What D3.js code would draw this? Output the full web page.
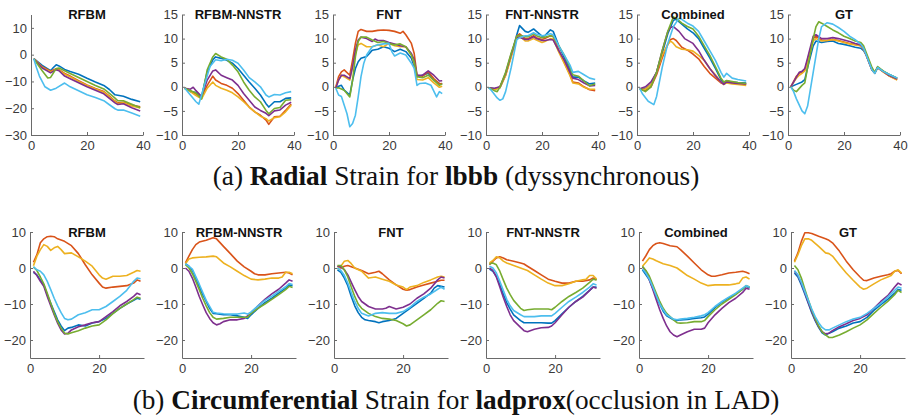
<!DOCTYPE html>
<html>
<head>
<meta charset="utf-8">
<script src="https://cdn.jsdelivr.net/npm/d3@7"></script>
<style>
  body { margin: 0; background: #fff; }
  .tick text { font-family: "Liberation Sans", Arial, sans-serif; font-size: 13px; fill: #3a3a3a; }
  .title { font-family: "Liberation Sans", Arial, sans-serif; font-size: 13px; font-weight: bold; fill: #111; }
  .caption { font-family: "Liberation Serif", "DejaVu Serif", serif; fill: #111; }
</style>
</head>
<body>
<div id="chart"></div>
<script>
// series order in every panel: blue, orange, yellow, purple, green, light blue
const lineColors = ["#0072BD", "#D95319", "#EDB120", "#7E2F8E", "#77AC30", "#4DBEEE"];
const panelTitles = ["RFBM", "RFBM-NNSTR", "FNT", "FNT-NNSTR", "Combined", "GT"];

const radialXTicks = [0, 20, 40];
const radialYTicksFirst = [-30, -20, -10, 0, 10];
const radialYTicks = [-10, -5, 0, 5, 10, 15];
const circXTicks = [0, 20];
const circYTicks = [-20, -10, 0, 10];

// (a) radial strain, lbbb
const radialRFBM = [
  [[1,-1.5],[4,-4],[7,-6],[8,-4.8],[9,-3.8],[10,-4.2],[12,-5.5],[14,-6.3],[17,-7.3],[20,-8.8],[23,-10.2],[26,-11.5],[28,-13],[30,-15],[33,-15.5],[36,-16.7],[39,-17.6]],
  [[1,-1.5],[4,-4.5],[7,-6.2],[9,-5.3],[10,-5.6],[12,-7],[14,-8],[17,-9.7],[20,-11.3],[23,-12.6],[26,-13.8],[28,-15.5],[30,-17.3],[31,-18],[33,-17.8],[36,-18.8],[39,-19.5]],
  [[1,-1.5],[4,-4.8],[7,-6.5],[9,-5.5],[10,-5.8],[12,-7.3],[14,-8.3],[17,-10],[20,-11.5],[23,-12.8],[26,-14],[28,-15.8],[30,-17.5],[31,-18.3],[33,-18],[36,-19.2],[39,-19.9]],
  [[1,-1.5],[4,-5],[7,-6.8],[9,-5.6],[10,-6],[12,-8],[14,-9],[17,-10.5],[20,-12],[23,-13.3],[26,-14.6],[28,-16.3],[30,-18],[31,-18.6],[33,-18.3],[36,-19.8],[39,-21]],
  [[1,-1.5],[4,-6],[6,-8.7],[7,-8.5],[9,-5.2],[10,-5],[12,-6],[14,-7],[17,-8.5],[20,-10],[23,-11.5],[26,-12.8],[28,-14.5],[30,-16.2],[31,-17.2],[33,-17.2],[36,-18.5],[39,-19.8]],
  [[1,-1.5],[2,-5],[3,-8],[5,-12],[7,-13.3],[9,-12.5],[12,-10.6],[14,-12],[17,-13.5],[20,-15],[23,-16],[26,-17.2],[28,-18.7],[30,-20.2],[31,-20.7],[33,-20.7],[36,-21.8],[39,-23]]
];
const radialRFBMNNSTR = [
  [[1,-0.3],[3,-1],[5,-1.2],[7,-2],[9,3.1],[11,5.6],[12,6.2],[14,5.9],[16,5.5],[18,4.9],[20,3.8],[22,2.4],[24,1],[26,-0.3],[28,-1.7],[30,-3.5],[31,-4.2],[33,-3.1],[35,-3.1],[37,-2.4],[39,-2.3]],
  [[1,-0.3],[3,-0.8],[5,-1.5],[7,-2.2],[9,0.3],[11,2.2],[12,1.4],[14,0.7],[16,0.3],[18,-0.3],[20,-1.4],[22,-2.8],[24,-4.2],[26,-5.2],[28,-5.9],[30,-6.9],[31,-7.8],[33,-6.2],[35,-6.1],[37,-4.9],[39,-3.6]],
  [[1,-0.3],[3,-1],[5,-1.8],[7,-2.5],[9,-0.3],[11,1],[12,0.3],[14,-0.3],[16,-0.7],[18,-1.25],[20,-2.1],[22,-3.1],[24,-4.2],[26,-5.2],[28,-6.1],[30,-6.6],[31,-7.1],[33,-6.4],[35,-6.2],[37,-5.2],[39,-3.8]],
  [[1,-0.3],[3,-0.5],[4,-0.1],[5,-0.8],[7,-2],[9,1.4],[11,3.3],[12,3.5],[14,2.4],[16,1.9],[18,1.4],[20,0.3],[22,-1.4],[24,-2.8],[26,-4.2],[28,-4.9],[30,-5.5],[31,-6],[33,-5],[35,-4.8],[37,-3.8],[39,-3.2]],
  [[1,-0.3],[3,-0.8],[5,-1.3],[7,-2.5],[9,3.5],[11,6.2],[12,6.9],[14,6.2],[16,5.7],[18,4.5],[20,3.1],[22,1],[24,-0.7],[26,-2.1],[28,-3.1],[30,-4.9],[31,-5.6],[33,-4.5],[35,-4.3],[37,-2.8],[39,-2.7]],
  [[1,-0.3],[3,-1.7],[5,-3.1],[6,-3.6],[8,0.3],[10,4.2],[12,5.6],[14,5.4],[16,5.7],[18,5.5],[20,4.9],[22,3.5],[24,1.9],[26,1],[28,0],[30,-1.7],[31,-2.1],[33,-1.6],[35,-1.7],[37,-1.25],[39,-1]]
];
const radialFNT = [
  [[1,-0.3],[2,0.1],[3,0.3],[4,-0.7],[6,-1.7],[7,1.4],[8,3.8],[9,5.2],[10,5.9],[12,6.3],[13,6.9],[14,7.6],[16,7.8],[18,8.3],[20,8],[22,7.3],[24,7.8],[26,7.3],[28,5.9],[29,4.2],[30,2.1],[32,2.4],[34,2.8],[36,1.4],[38,0.7],[39,0.6]],
  [[1,-0.1],[2,2.1],[3,3.1],[4,3.5],[6,2.4],[7,5.6],[8,9],[9,11.5],[10,11.9],[12,11.5],[14,11.5],[16,11.7],[18,11.8],[20,11.7],[22,11.5],[24,11.1],[25,11.5],[26,10.8],[28,9],[29,6.9],[30,2.4],[32,2.2],[34,3.1],[36,1.7],[38,0.6],[39,0.7]],
  [[1,-0.1],[2,1.4],[3,2.4],[4,2.1],[6,1.4],[7,4.2],[8,6.9],[9,8.7],[10,9],[12,8.3],[14,8.3],[16,8.7],[18,8.3],[20,9],[22,8.5],[24,8.3],[26,8.3],[28,6.6],[29,4.9],[30,1.5],[32,1.4],[34,1.9],[36,0.8],[38,-0.1],[39,0.1]],
  [[1,-0.3],[2,1.4],[3,2.4],[4,2.4],[6,1.7],[7,4.2],[8,7.6],[9,9.7],[10,10.3],[12,10],[14,9.4],[15,9.9],[16,9.6],[18,9.6],[20,9.2],[22,8.9],[24,8.5],[26,8.3],[28,6.9],[29,5.6],[30,2.4],[32,2.4],[34,3.3],[36,2.4],[38,1.2],[39,1.25]],
  [[1,-0.3],[2,-0.2],[4,-0.7],[6,-2.1],[7,1.4],[8,6.2],[9,9.4],[10,10.3],[12,10.3],[14,9.7],[16,9.2],[18,9.4],[20,9],[22,8.7],[24,8.9],[26,8.3],[28,6.6],[29,5.2],[30,2.1],[32,1.9],[34,2.4],[36,1.4],[38,0.3],[39,0.6]],
  [[1,-0.3],[2,-1.7],[3,-2],[5,-5.6],[6,-8.3],[7,-7.6],[8,-5.9],[9,-2.1],[10,2.1],[11,4.9],[12,6.6],[14,8.3],[16,8.7],[18,8.9],[20,9],[21,7.3],[22,6.4],[24,7],[26,6.6],[28,4.9],[29,3.8],[30,0.3],[31,0.7],[33,0.8],[35,0.3],[37,-2.1],[38,-1],[39,-1.4]]
];
const radialFNTNNSTR = [
  [[1,-0.2],[3,-0.4],[5,-0.2],[7,2.5],[9,6.5],[11,10.8],[12,12.7],[14,11.5],[15,11.3],[17,12],[18,11.5],[20,10.5],[21,10.6],[23,11.8],[24,11.5],[26,8.5],[28,6],[30,3.5],[31,2],[33,2],[35,1.2],[37,0.6],[39,0.8]],
  [[1,-0.2],[3,-0.5],[5,0],[7,2.5],[9,6.5],[11,10.5],[12,11],[14,10],[15,10],[17,10.6],[18,10.2],[20,9.8],[21,10],[23,10.6],[24,10.5],[26,7.5],[28,5],[30,2.5],[31,1],[33,0.8],[35,0],[37,-0.6],[39,-0.8]],
  [[1,-0.2],[3,-0.6],[5,-0.2],[7,2.3],[9,6.2],[11,10],[12,10.5],[14,9.5],[15,9.5],[17,10],[18,9.7],[20,9.2],[21,9.4],[23,10],[24,9.9],[26,7.2],[28,4.8],[30,2.3],[31,0.8],[33,0.6],[35,-0.1],[37,-0.5],[39,-0.5]],
  [[1,-0.2],[3,-0.3],[5,0],[7,2.8],[9,6.8],[11,10.2],[12,10.3],[14,9.8],[15,9.8],[17,10.4],[18,10],[20,9.6],[21,9.6],[23,9.8],[24,9.7],[26,7.5],[28,5.5],[30,3],[31,1.8],[33,1.5],[35,0.8],[37,0.2],[39,0.3]],
  [[1,-0.2],[3,-0.8],[4,-1],[5,0],[7,3],[9,7],[11,10.5],[12,10.7],[14,10.4],[15,10.4],[17,11],[18,10.6],[20,10.2],[21,10.3],[23,10.6],[24,10.4],[26,8.5],[28,6.5],[30,4],[31,2.5],[33,2.2],[35,1.2],[37,0.2],[39,0.6]],
  [[1,-0.2],[2,-0.8],[4,-2.3],[5,-2.8],[6,-2.5],[7,-1],[9,4],[11,9.8],[12,10.2],[14,10.6],[15,10.6],[17,11.2],[18,10.9],[20,10.6],[21,10.7],[23,11],[24,10.8],[26,8.5],[28,6.5],[30,4.5],[31,3],[33,3.2],[35,2.5],[37,1.8],[39,1.5]]
];
const radialCombined = [
  [[1,-0.4],[3,-0.4],[5,0.5],[7,3],[9,7],[11,11],[13,13.8],[14,14],[16,13],[18,12],[20,11.2],[22,10],[24,8],[26,6],[28,3.8],[30,1.5],[31,0.8],[32,1.2],[34,1],[36,0.9],[39,0.8]],
  [[1,-0.4],[3,-0.8],[5,0],[7,2.5],[9,6],[11,8.8],[12,9.8],[13,10],[14,9.6],[16,8.2],[18,7.6],[20,6.8],[22,5.8],[24,4.2],[26,2.8],[28,1.8],[30,0.8],[31,0.6],[32,1.2],[34,0.9],[36,0.7],[39,0.5]],
  [[1,-0.4],[3,-0.5],[5,0.5],[7,3],[9,6.5],[11,8.8],[12,9.5],[13,9],[14,8.3],[16,7.8],[18,7.7],[20,7.4],[22,6.5],[24,5.5],[26,3.8],[28,2.5],[30,1],[31,0.5],[32,0.8],[34,0.6],[36,0.5],[39,0.3]],
  [[1,-0.4],[3,0],[5,1],[7,3],[9,7.5],[11,11.5],[12,12.3],[13,12.5],[15,11.5],[17,10],[20,9],[22,7.5],[24,5.5],[26,3.8],[28,2.3],[30,1],[31,0.5],[32,1],[34,0.8],[36,0.7],[39,0.6]],
  [[1,-0.4],[3,-1],[5,0],[7,3],[9,7.5],[11,11.5],[13,14.5],[14,14.2],[16,13.2],[18,12.5],[20,12],[22,10.5],[24,8.5],[26,6.5],[28,4.2],[30,1.8],[31,1],[32,1.3],[34,1.1],[36,0.9],[39,0.7]],
  [[1,-0.4],[2,-1.5],[4,-3],[6,-3.7],[7,-2],[9,4],[11,9],[13,12.5],[15,14.2],[16,14],[18,13.2],[20,12.6],[22,11.5],[24,9.5],[26,7.5],[28,5.5],[30,3],[31,2],[32,2.8],[34,1.8],[36,1.5],[39,1.2]]
];
const radialGT = [
  [[1,0],[3,0.5],[5,1],[6,1.5],[7,4],[9,8.5],[10,9.5],[12,9.2],[14,9.4],[16,9.5],[18,9],[20,8.8],[22,8.5],[24,8.2],[26,8],[27,7.5],[28,6.5],[29,5],[30,3.5],[31,2.8],[32,4],[34,3.2],[36,2.6],[39,1.8]],
  [[1,0],[3,2.2],[4,2.8],[5,3],[6,3.5],[7,5.5],[9,10],[10,10.5],[12,9.7],[14,9.6],[16,9.8],[18,9.6],[20,9.3],[22,9],[24,8.8],[26,8.5],[27,7.8],[28,6.5],[29,5],[30,3.5],[31,2.9],[32,4],[34,3.1],[36,2.3],[39,1.5]],
  [[1,0],[3,1.8],[4,2.4],[5,2.8],[6,3.3],[7,5],[9,9.5],[10,10],[12,9.5],[14,9.6],[16,9.8],[18,9.5],[20,9.2],[22,8.9],[24,8.7],[26,8.5],[27,7.8],[28,6.5],[29,5],[30,3.5],[31,2.9],[32,4],[34,3.1],[36,2.3],[39,1.4]],
  [[1,0],[3,2],[4,3],[5,3.2],[6,3.8],[7,6],[9,10.5],[10,10.8],[12,10],[14,10],[16,10.2],[18,10],[20,9.7],[22,9.4],[24,9],[26,8.7],[27,8],[28,6.5],[29,5],[30,3.5],[31,3],[32,4],[34,3.2],[36,2.4],[39,1.6]],
  [[1,0],[2,-0.7],[3,-1],[5,0.3],[6,0.8],[7,4],[9,10],[10,12.5],[11,13.5],[12,13.2],[14,12.5],[16,11.8],[18,11.2],[20,10.5],[22,10],[24,9.5],[26,9.2],[27,8.5],[28,7],[29,5.5],[30,4],[31,3],[32,4.2],[34,3.3],[36,2.6],[39,1.8]],
  [[1,0],[2,-1],[3,-2.5],[5,-5],[6,-5.6],[7,-4],[9,3],[11,10],[12,12.5],[14,13.3],[16,13],[18,12.3],[20,11.5],[22,10.5],[24,9.8],[26,8.8],[27,8],[28,6.5],[29,5],[30,3.5],[31,2.8],[32,4],[34,3.2],[36,2.6],[39,1.8]]
];

// (b) circumferential strain, ladprox
const circRFBM = [
  [[1,-1.2],[2,-1.9],[3,-3.3],[4,-4.7],[5,-7.4],[6,-9.8],[7,-12.1],[8,-14.4],[9,-16.1],[10,-17.4],[11,-16.7],[12,-16.5],[14,-15.8],[16,-16.1],[18,-15.3],[20,-14.9],[22,-14],[24,-12.6],[26,-11.2],[28,-10],[30,-9],[31,-8.4],[32,-8.7]],
  [[1,1.6],[2,3.7],[3,7],[4,8.1],[5,8.7],[6,8.8],[7,8.7],[8,8.1],[10,7.4],[12,6.2],[14,4],[16,0.9],[18,-1.9],[20,-4.2],[21,-5.3],[22,-5.6],[24,-5.3],[26,-5.1],[28,-4.9],[30,-4.2],[31,-3.3],[32,-3.7]],
  [[1,0.6],[2,3.3],[3,5.1],[4,6.5],[5,6],[6,4.9],[7,5.6],[8,6],[9,5.1],[10,4],[12,4.2],[14,3.1],[16,1.9],[18,0.5],[20,-1.9],[21,-2.8],[22,-3.1],[24,-2.3],[26,-2.3],[28,-2.1],[30,-1.2],[31,-0.7],[32,-0.9]],
  [[1,-0.9],[2,-2.1],[3,-3.7],[4,-5.1],[5,-7.9],[6,-10.5],[7,-13],[8,-15.3],[9,-17.2],[10,-18.3],[11,-18.1],[12,-17.2],[14,-16.3],[16,-15.8],[18,-15.2],[20,-14.9],[22,-13.5],[24,-12.1],[26,-10.5],[28,-9.3],[30,-7.9],[31,-7],[32,-7.4]],
  [[1,0.3],[2,-0.7],[3,-2.5],[4,-4.4],[5,-7],[6,-9.8],[7,-12.6],[8,-14.9],[9,-16.7],[10,-18.1],[11,-18.3],[12,-18],[14,-17.4],[16,-16.7],[18,-16.1],[20,-15.8],[22,-14.4],[24,-12.7],[26,-11.2],[28,-10],[30,-8.8],[31,-8.1],[32,-8.4]],
  [[1,0.3],[2,-0.5],[3,-0.9],[4,-1.9],[5,-3.7],[6,-6],[7,-8.4],[8,-10.5],[9,-12.4],[10,-14],[11,-14.4],[12,-14.2],[14,-13],[16,-12.4],[18,-11.6],[20,-11.6],[22,-10.7],[24,-9.3],[26,-7.9],[28,-6.2],[30,-3.7],[31,-2.8],[32,-3]]
];
const circRFBMNNSTR = [
  [[1,1.2],[2,0.5],[3,-0.7],[4,-2.8],[5,-5.1],[6,-7.4],[7,-9.3],[8,-11.2],[9,-12.6],[10,-12.7],[12,-13],[14,-13],[16,-13.3],[18,-13.7],[19,-14],[20,-13],[22,-11.2],[24,-9.6],[26,-8.4],[28,-7],[30,-5.6],[31,-4.7],[32,-4.9]],
  [[1,1.4],[2,3.3],[3,5.1],[4,6.5],[5,7.2],[7,7.7],[9,8.4],[10,8.1],[12,6],[14,4],[16,1.9],[18,0.3],[20,-0.9],[21,-1.6],[22,-1.9],[24,-1.9],[26,-1.6],[28,-1.4],[30,-1.2],[31,-1.4],[32,-1.9]],
  [[1,1.2],[2,2.5],[3,2.8],[5,3],[7,3.1],[9,3.3],[10,3.1],[12,1.4],[14,0.3],[16,-0.9],[18,-2.1],[20,-3.1],[22,-3.3],[24,-3.1],[26,-2.8],[28,-2.8],[29,-2.5],[30,-1.2],[31,-1.2],[32,-1.6]],
  [[1,0],[2,-0.9],[3,-2.8],[4,-5.3],[5,-7.9],[6,-10.2],[7,-12.4],[8,-14],[9,-15.2],[10,-15.8],[11,-15.5],[12,-14.9],[14,-14.4],[16,-14.4],[18,-14],[20,-12.6],[22,-10.5],[24,-8.7],[26,-7.2],[28,-5.9],[30,-4.2],[31,-3.3],[32,-3.7]],
  [[1,0.9],[2,0],[3,-1.6],[4,-3.7],[5,-6],[6,-8.4],[7,-10.5],[8,-12.4],[9,-13.7],[10,-14.2],[12,-14],[14,-13.7],[16,-13.7],[18,-13.7],[19,-13.7],[20,-12.6],[22,-11.2],[24,-10],[26,-8.7],[28,-7.4],[30,-6],[31,-5.1],[32,-5.4]],
  [[1,1.2],[3,-0.3],[5,-4.5],[7,-9],[9,-12.3],[10,-12.5],[12,-12.7],[14,-12.8],[16,-12.8],[18,-12.5],[19,-12.8],[20,-12.2],[22,-10.5],[24,-9],[26,-7.8],[28,-6.5],[30,-5.2],[31,-4.3],[32,-4.6]]
];
const circFNT = [
  [[1,-0.5],[2,-1.2],[3,-2.8],[4,-4.9],[5,-7.9],[6,-10.5],[7,-12.4],[8,-13.7],[9,-14.4],[10,-14.6],[12,-14.9],[13,-15.2],[14,-14.9],[16,-14.6],[18,-14],[20,-12.6],[22,-11.2],[24,-9.8],[26,-8.4],[28,-7],[29,-5.6],[30,-4.9],[31,-5.1],[32,-5.3]],
  [[1,0.5],[2,0],[3,0.5],[4,0.7],[6,0],[8,-0.7],[10,-1.6],[12,-1.2],[13,-0.9],[14,-1.6],[16,-3.3],[18,-4.7],[20,-5.9],[21,-6.2],[22,-6],[24,-5.3],[26,-4.7],[28,-4.2],[30,-3.7],[31,-3.4],[32,-3.4]],
  [[1,-0.3],[2,0.5],[3,1.9],[4,2.1],[5,1.2],[6,0],[8,-0.9],[10,-2.8],[12,-2.5],[14,-3.1],[16,-3.7],[18,-4.7],[20,-5.3],[21,-6],[22,-5.3],[24,-4.9],[26,-4],[28,-3.3],[30,-2.5],[31,-2.3],[32,-2.5]],
  [[1,0.5],[2,0.3],[3,-0.5],[4,-1.9],[5,-4],[6,-6],[7,-7.9],[8,-9.3],[10,-10.7],[12,-11.4],[14,-11.4],[15,-11.2],[16,-10.7],[18,-11.4],[20,-10.9],[22,-10],[24,-8.4],[26,-7.2],[28,-5.6],[30,-3.3],[31,-2.5],[32,-2.8]],
  [[1,0.7],[2,0.7],[3,-0.5],[4,-2.5],[5,-5.3],[6,-7.9],[7,-10],[8,-11.2],[10,-12.6],[12,-13.5],[14,-14],[16,-14.2],[18,-14.6],[20,-15.5],[21,-16.1],[22,-15.8],[24,-14.4],[26,-13],[28,-11.6],[30,-9.8],[31,-9.1],[32,-9.3]],
  [[1,0],[2,-0.7],[3,-2.1],[4,-4.2],[5,-6.8],[6,-9.3],[7,-11.2],[8,-12.6],[10,-13.3],[11,-13],[12,-12.6],[14,-12.4],[16,-12.6],[18,-12.6],[20,-12.1],[22,-10.9],[24,-9.3],[26,-8.1],[28,-7.2],[30,-5.9],[31,-5.3],[32,-5.9]]
];
const circFNTNNSTR = [
  [[1,-0.3],[2,-0.9],[3,-2.3],[4,-4.7],[5,-7.2],[6,-9.6],[7,-11.4],[8,-13],[10,-14.6],[11,-15.2],[12,-15.2],[14,-15.2],[16,-15.2],[18,-15.3],[19,-15.3],[20,-14.6],[22,-12.7],[24,-10.9],[26,-9.3],[28,-7.9],[30,-6.2],[31,-5.3],[32,-5.3]],
  [[1,0.9],[2,1.9],[3,2.8],[4,3.1],[5,2.8],[6,2.3],[8,1.9],[10,1.4],[11,1.1],[12,0.5],[14,-0.7],[16,-1.9],[18,-3.1],[20,-3.7],[22,-4.2],[24,-4.2],[26,-3.7],[28,-3.7],[30,-3.3],[31,-2.8],[32,-3.3]],
  [[1,1.4],[2,2.1],[3,3.1],[4,2.8],[5,1.9],[6,1.4],[8,0.7],[10,0],[12,-0.7],[14,-1.9],[16,-3.1],[18,-4.2],[20,-4.9],[22,-4.9],[24,-4.4],[26,-3.7],[28,-3.3],[29,-3.1],[30,-2.1],[31,-2.1],[32,-3.1]],
  [[1,0],[2,-0.7],[3,-2.5],[4,-5.3],[5,-8.1],[6,-10.7],[7,-13],[8,-14.6],[10,-16.5],[11,-17.4],[12,-17.7],[14,-17],[16,-16.6],[18,-16.5],[19,-16.1],[20,-15.2],[22,-13],[24,-10.9],[26,-9.3],[28,-8.1],[30,-6.2],[31,-5.3],[32,-5.6]],
  [[1,1.2],[2,1.4],[3,0.9],[4,-0.9],[5,-3.3],[6,-5.6],[7,-7.4],[8,-9],[10,-11.2],[11,-11.8],[12,-11.6],[14,-11.4],[16,-11.4],[18,-11.4],[19,-11.6],[20,-10.9],[22,-9.3],[24,-7.9],[26,-6.8],[28,-5.6],[30,-4],[31,-3.1],[32,-3.3]],
  [[1,0.5],[2,0],[3,-1.4],[4,-3.7],[5,-6.2],[6,-8.7],[7,-10.5],[8,-11.8],[10,-13],[11,-13.5],[12,-13.5],[14,-13.5],[16,-13.3],[18,-13.3],[19,-13.3],[20,-12.6],[22,-10.9],[24,-9.3],[26,-8.1],[28,-6.8],[30,-5.3],[31,-4.4],[32,-4.7]]
];
const circCombined = [
  [[1,-0.5],[3,-3.3],[5,-8],[7,-12],[8,-13.3],[10,-14.4],[11,-14.6],[12,-14.4],[14,-14.3],[16,-14],[18,-13.8],[19,-13.6],[20,-12.8],[22,-11],[24,-9.5],[26,-8.3],[28,-7.2],[30,-5.9],[31,-5.1],[32,-5.5]],
  [[1,1.9],[2,3.4],[3,5.1],[4,6.2],[5,6.8],[6,7],[7,6.8],[9,6.2],[11,5.9],[12,5.1],[14,3.3],[16,1.4],[18,-0.5],[20,-1.9],[21,-2.3],[22,-2.3],[24,-1.9],[26,-1.4],[28,-1.2],[30,-0.9],[31,-1.2],[32,-1.6]],
  [[1,0.5],[2,1.6],[3,2.8],[4,2.5],[5,2],[7,1.2],[9,0.7],[11,0],[12,-0.7],[14,-2.1],[16,-3.1],[18,-4.2],[20,-4.9],[22,-4.7],[24,-4.7],[26,-4.7],[28,-4.4],[29,-4.2],[30,-2.8],[31,-2.5],[32,-3.1]],
  [[1,0.3],[2,-0.9],[3,-3.3],[4,-6],[5,-8.8],[6,-11.6],[7,-14],[8,-16.1],[9,-17.7],[10,-18.6],[11,-19.1],[12,-18.6],[14,-17.7],[16,-17],[18,-17],[19,-16.7],[20,-15.2],[22,-13],[24,-11.2],[26,-9.6],[28,-8.4],[30,-6.8],[31,-5.6],[32,-5.9]],
  [[1,0.5],[2,-0.7],[3,-2.3],[4,-4.7],[5,-7],[6,-9.3],[7,-11.2],[8,-12.6],[10,-14.4],[11,-15.2],[12,-15.3],[14,-15.2],[16,-14.9],[18,-14.9],[19,-14.6],[20,-13.5],[22,-11.6],[24,-10],[26,-8.7],[28,-7.4],[30,-5.9],[31,-4.9],[32,-5.3]],
  [[1,-0.3],[2,-1.4],[3,-3.1],[4,-5.3],[5,-7.7],[6,-10],[7,-11.6],[8,-13],[10,-14.2],[11,-14.4],[12,-14.2],[14,-14],[16,-13.7],[18,-13.3],[19,-13],[20,-12.4],[22,-10.7],[24,-9.3],[26,-8.1],[28,-7],[30,-5.6],[31,-4.9],[32,-5.3]]
];
const circGT = [
  [[1,-1.4],[2,-2.5],[3,-4.7],[4,-7.2],[5,-9.8],[6,-12.4],[7,-14.6],[8,-16.5],[9,-18],[10,-18.6],[11,-18.1],[12,-17.7],[14,-16.7],[16,-16.1],[18,-15.3],[20,-14.9],[22,-13.7],[24,-11.8],[26,-10.2],[28,-8.7],[30,-7],[31,-6],[32,-6.2]],
  [[1,1.9],[2,4.2],[3,7.4],[4,9.8],[5,9.8],[6,9.6],[8,8.8],[10,8.1],[11,7.7],[12,7],[14,4.7],[16,1.9],[18,-0.5],[20,-2.5],[21,-3.4],[22,-3.5],[24,-2.8],[26,-2.3],[28,-1.9],[29,-1.6],[30,-0.9],[31,-0.7],[32,-1.6]],
  [[1,1.6],[2,3.7],[3,6.2],[4,8.1],[5,8.1],[6,7.7],[8,6],[10,4.2],[11,4],[12,3.3],[14,0.9],[16,-1.4],[18,-3.4],[20,-5.3],[21,-5.9],[22,-5.6],[24,-4.4],[26,-3.3],[28,-2.5],[29,-2.1],[30,-0.9],[31,-0.5],[32,-1.4]],
  [[1,-0.9],[2,-2.1],[3,-4.2],[4,-6.8],[5,-9.6],[6,-12.1],[7,-14.4],[8,-16.3],[9,-17.7],[10,-18.3],[11,-18.1],[12,-17.4],[14,-16.3],[16,-15.5],[18,-14.6],[20,-14],[22,-13],[24,-11.2],[26,-9.3],[28,-7.7],[30,-5.3],[31,-4.2],[32,-4.7]],
  [[1,0.7],[2,-0.5],[3,-2.8],[4,-5.9],[5,-8.8],[6,-11.6],[7,-14],[8,-16.1],[9,-17.7],[10,-18.6],[11,-19.3],[12,-19.3],[14,-18.6],[16,-17.7],[18,-16.7],[20,-15.8],[22,-14.4],[24,-12.6],[26,-10.9],[28,-9.3],[30,-7.4],[31,-6.2],[32,-6.8]],
  [[1,-0.7],[2,-1.9],[3,-4],[4,-6.5],[5,-9],[6,-11.4],[7,-13.5],[8,-15.2],[9,-16.5],[10,-17.2],[11,-17.2],[12,-16.7],[14,-15.8],[16,-14.9],[18,-14.2],[20,-13.7],[22,-12.6],[24,-11.2],[26,-9.8],[28,-8.1],[30,-6.2],[31,-5.3],[32,-5.6]]
];

const radialPanels = [radialRFBM, radialRFBMNNSTR, radialFNT, radialFNTNNSTR, radialCombined, radialGT];
const circPanels = [circRFBM, circRFBMNNSTR, circFNT, circFNTNNSTR, circCombined, circGT];

// Layout
const W = 912, H = 417;
const svg = d3.select("#chart").append("svg")
    .attr("width", W)
    .attr("height", H);

const topLefts = [31, 182, 333, 486, 637, 788];
const botLefts = [30, 182, 334, 486, 639, 791];

function drawPanel(opt) {
    let g = svg.append("g").attr("transform", `translate(${opt.left}, ${opt.top})`);

    let x = d3.scaleLinear().domain(opt.xDomain).range([0, opt.width]);
    let y = d3.scaleLinear().domain(opt.yDomain).range([opt.height, 0]);

    // x axis
    let xa = g.append("g")
        .attr("transform", `translate(0, ${opt.height})`)
        .call(d3.axisBottom(x).tickValues(opt.xTicks).tickSizeInner(-3).tickSizeOuter(0).tickPadding(6));
    // y axis
    let ya = g.append("g")
        .call(d3.axisLeft(y).tickValues(opt.yTicks).tickSizeInner(-3).tickSizeOuter(0).tickPadding(4));

    [xa, ya].forEach(a => {
        a.select(".domain").attr("stroke", "#6a6a6a");
        a.selectAll(".tick line").attr("stroke", "#6a6a6a");
        a.attr("font-family", null).attr("font-size", null);
    });

    let line = d3.line()
        .x(d => x(d[0]))
        .y(d => y(d[1]));

    opt.series.forEach((s, i) => {
        g.append("path")
            .datum(s)
            .attr("d", line)
            .attr("fill", "none")
            .attr("stroke", lineColors[i])
            .attr("stroke-width", 1.6)
            .attr("stroke-linejoin", "round");
    });

    g.append("text")
        .attr("class", "title")
        .attr("x", opt.width / 2)
        .attr("y", opt.titleY)
        .attr("text-anchor", "middle")
        .text(opt.title);
}

radialPanels.forEach((series, i) => {
    drawPanel({
        left: topLefts[i], top: 14.5, width: 112, height: 120.5,
        xDomain: [0, 40], yDomain: i === 0 ? [-30, 15] : [-10, 15],
        xTicks: radialXTicks, yTicks: i === 0 ? radialYTicksFirst : radialYTicks,
        title: panelTitles[i], titleY: 4, series: series
    });
});

circPanels.forEach((series, i) => {
    drawPanel({
        left: botLefts[i], top: 232, width: 114, height: 126,
        xDomain: [0, 33], yDomain: [-25, 10],
        xTicks: circXTicks, yTicks: circYTicks,
        title: panelTitles[i], titleY: 5, series: series
    });
});

// Captions
function caption(parts, yPos, targetWidth) {
    let t = svg.append("text")
        .attr("class", "caption")
        .attr("x", W / 2)
        .attr("y", yPos)
        .attr("text-anchor", "middle")
        .attr("font-size", 22);
    parts.forEach(p => {
        t.append("tspan").attr("font-weight", p[1] ? "bold" : "normal").text(p[0]);
    });
    let w = t.node().getComputedTextLength();
    t.attr("font-size", 22 * targetWidth / w);
}

caption([["(a) ", false], ["Radial", true], [" Strain for ", false], ["lbbb", true], [" (dyssynchronous)", false]], 185, 487);
caption([["(b) ", false], ["Circumferential", true], [" Strain for ", false], ["ladprox", true], ["(occlusion in LAD)", false]], 409, 647);
</script>
</body>
</html>
